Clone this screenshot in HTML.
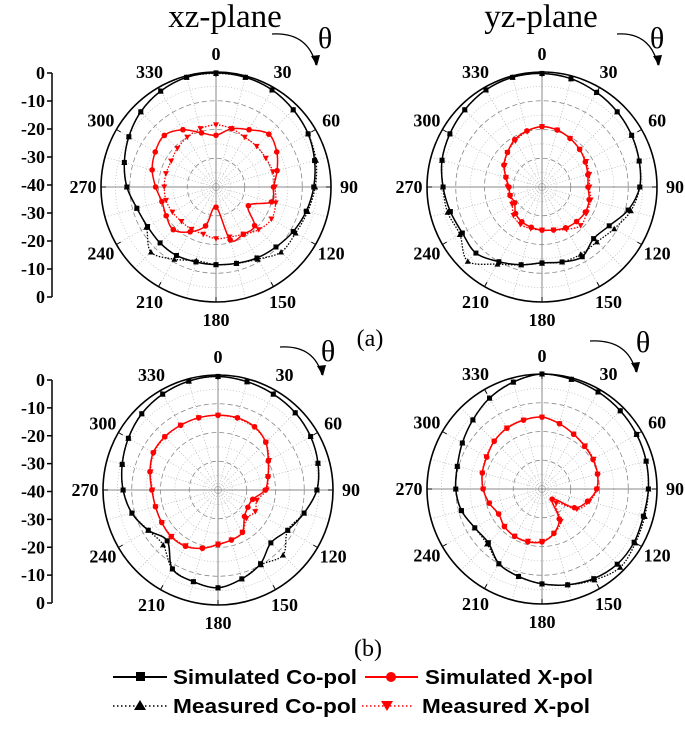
<!DOCTYPE html>
<html><head><meta charset="utf-8"><style>
html,body{margin:0;padding:0;background:#fff;}
svg{display:block;}
.lab{font-family:"Liberation Serif",serif;font-weight:bold;font-size:18px;fill:#000;}
.leg{font-family:"Liberation Sans",sans-serif;font-weight:bold;font-size:20px;fill:#000;}
</style></head><body>
<svg id="fig" width="685" height="734" viewBox="0 0 685 734" xmlns="http://www.w3.org/2000/svg">
<rect width="685" height="734" fill="#fff"/>
<text x="225" y="27" font-family="Liberation Serif,serif" font-size="33" text-anchor="middle">xz-plane</text>
<text x="541" y="27" font-family="Liberation Serif,serif" font-size="33" text-anchor="middle">yz-plane</text>
<text x="370" y="346" font-family="Liberation Serif,serif" font-size="24" text-anchor="middle">(a)</text>
<text x="368" y="656" font-family="Liberation Serif,serif" font-size="24" text-anchor="middle">(b)</text>
<g id="legend">
 <g>
  <line x1="113" y1="677" x2="167" y2="677" stroke="#000" stroke-width="2"/>
  <rect x="136" y="672" width="9" height="9" fill="#000"/>
  <text class="leg" x="173" y="684" textLength="184" lengthAdjust="spacingAndGlyphs">Simulated Co-pol</text>
 </g>
 <g>
  <line x1="365" y1="677" x2="418" y2="677" stroke="#f00" stroke-width="2"/>
  <circle cx="391" cy="677" r="5" fill="#f00"/>
  <text class="leg" x="425" y="684" textLength="168" lengthAdjust="spacingAndGlyphs">Simulated X-pol</text>
 </g>
 <g>
  <line x1="113" y1="706" x2="167" y2="706" stroke="#000" stroke-width="1.5" stroke-dasharray="1.5,2.5"/>
  <polygon points="140,700 134,710 146,710" fill="#000"/>
  <text class="leg" x="173" y="713" textLength="184" lengthAdjust="spacingAndGlyphs">Measured Co-pol</text>
 </g>
 <g>
  <line x1="362" y1="706" x2="412" y2="706" stroke="#f00" stroke-width="1.5" stroke-dasharray="1.5,2.5"/>
  <polygon points="381,701 393,701 387,711" fill="#f00"/>
  <text class="leg" x="422" y="713" textLength="168" lengthAdjust="spacingAndGlyphs">Measured X-pol</text>
 </g>
</g>
</svg>
<script>
// angles 0..345 step 15 (deg), values in dB
const angles = [0,15,30,45,60,75,90,105,120,135,150,165,180,195,210,225,240,255,270,285,300,315,330,345];
const radialTicks = ["0","-10","-20","-30","-40","-30","-20","-10","0"];
const angleLabels = [0,30,60,90,120,150,180,210,240,270,300,330];

const p1SimCo = [-0.3,-0.5,-1,-2,-3,-4.5,-6,-7.5,-9,-10.5,-11.5,-12.5,-13,-13,-12.5,-12.5,-12.5,-11.5,-9,-7,-5,-3,-1.5,-0.5];
const p1MeasCo = [-0.5,-0.5,-1,-2,-3,-4,-5.5,-7,-8,-8,-11,-12.5,-13,-13.5,-11,-8,-12,-11.5,-9,-7,-5,-3,-1.5,-0.5];
const p1SimX = [-22,-19,-17,-14,-15.6,-18,-20,-20,-27,-21,-21,-21,-33,-26,-22,-19,-20,-20.5,-19,-17,-15.6,-14.6,-17,-20.5];
const p1MeasX = [-18.4,-19,-20,-20,-20,-19.5,-19.5,-18.5,-17.7,-19,-21,-22,-22,-23,-23,-23,-22.5,-22,-22,-22,-22,-21,-20,-19];

const p2SimCo = [-0.5,-1,-2,-3,-4,-5,-6,-9,-13,-14.6,-12,-13,-13.6,-12,-10,-7.5,-8,-7,-5.6,-4,-3,-2,-1,-0.5];
const p2MeasCo = [-0.5,-1,-2,-3,-4,-5,-6,-8,-11,-13,-13,-13,-13.5,-12,-9,-3.5,-7,-6,-5.5,-4,-3,-2,-1,-0.5];
const p2SimX = [-19,-19.5,-20.5,-21.5,-22.6,-23.5,-24,-23,-22.6,-23,-23.6,-24.5,-25,-25.5,-26,-27,-29,-28.5,-28.5,-27,-24.7,-23,-21,-19.8];
const p2MeasX = [-19,-19.5,-20.5,-21.5,-22.3,-23,-23.5,-22.5,-22,-21,-23,-24.5,-25,-25,-25,-26,-28,-28.5,-28,-27,-25,-23,-21.5,-20];

const p3SimCo = [-0.5,-1,-1.5,-2,-2.8,-4,-5.6,-9,-12,-14,-10.4,-8,-6,-7,-8.3,-15,-12,-9,-7,-5.5,-4,-2.5,-1.5,-0.8];
const p3MeasCo = [-0.5,-1,-1.5,-2,-2.8,-4,-5.6,-9,-12,-8,-10,-8,-6,-7,-8.3,-13,-12,-9,-7,-5.5,-4,-2.5,-1.5,-0.8];
const p3SimX = [-14,-14,-14.6,-16.5,-19.8,-22,-23.6,-27.5,-28,-27,-23,-22,-21,-19,-17.4,-17,-17.4,-17.5,-17,-15.5,-14,-13.8,-14,-14];
const p3MeasX = [-14,-14.2,-14.8,-16.5,-19.5,-22,-23,-26,-25,-26,-23,-22,-21.2,-19,-17.6,-17.2,-17.4,-17.5,-17.2,-15.7,-14.2,-14,-14,-14];

const p4SimCo = [0,-0.5,-1,-1.5,-2,-2.5,-3,-3.5,-3,-3,-4,-5.5,-7,-8.5,-10,-13.6,-13,-11,-10,-9.5,-8,-6,-3.5,-1.5];
const p4MeasCo = [0,-0.5,-1,-1.5,-2,-2.5,-3,-3,-2.5,-1.5,-3.5,-5.5,-7,-8.5,-10,-13,-13,-11,-10,-9.5,-8,-6,-3.5,-1.5];
const p4SimX = [-15,-16.5,-18,-19,-19.5,-20,-21,-23.6,-27,-35,-28,-24,-21.6,-21,-21,-21.5,-22.6,-21,-19.5,-18.5,-17.8,-16.5,-15.6,-15.2];
const p4MeasX = [-15,-16.5,-18,-18.8,-19.3,-20,-20.8,-23,-26,-33,-27,-24,-21.8,-21.2,-21,-21.6,-22.5,-21,-19.6,-18.5,-17.6,-16.5,-15.5,-15.2];

const NS = "http://www.w3.org/2000/svg";
const svg = document.getElementById("fig");
const R = 115, DBMIN = -40;
function mk(tag, attrs, parent){ const e=document.createElementNS(NS,tag); for(const k in attrs) e.setAttribute(k,attrs[k]); (parent||svg).appendChild(e); return e; }
function rScale(db){ return R*Math.max(0,(db-DBMIN))/(-DBMIN); }
function pt(cx,cy,ang,db){ const r=rScale(db), a=ang*Math.PI/180; return [cx+r*Math.sin(a), cy-r*Math.cos(a)]; }
function smoothPath(pts){
  const n=pts.length; let d="M"+pts[0][0].toFixed(2)+","+pts[0][1].toFixed(2);
  for(let i=0;i<n;i++){
    const p0=pts[(i-1+n)%n],p1=pts[i],p2=pts[(i+1)%n],p3=pts[(i+2)%n];
    const c1=[p1[0]+(p2[0]-p0[0])/6,p1[1]+(p2[1]-p0[1])/6];
    const c2=[p2[0]-(p3[0]-p1[0])/6,p2[1]-(p3[1]-p1[1])/6];
    d+=" C"+c1[0].toFixed(2)+","+c1[1].toFixed(2)+" "+c2[0].toFixed(2)+","+c2[1].toFixed(2)+" "+p2[0].toFixed(2)+","+p2[1].toFixed(2);
  }
  return d+"Z";
}

function drawAxis(y0, y1){
  const g=mk("g",{});
  
  
  mk("line",{x1:52,y1:y0,x2:52,y2:y1,stroke:"#000","stroke-width":1.5},g);
  radialTicks.forEach((t,i)=>{
    const y=y0+(y1-y0)*i/(radialTicks.length-1);
    mk("line",{x1:47,y1:y,x2:52,y2:y,stroke:"#000","stroke-width":1.5},g);
    const tx=mk("text",{x:45,y:y+6,"text-anchor":"end",class:"lab"},g);
    
    
    tx.textContent=t;
  });
}

function drawPlot(name,cx,cy,simCo,measCo,simX,measX,thetaDx,thetaDy,arrow){
  const g=mk("g",{});
  
  
  [-5,-15,-25,-35].forEach(db=>mk("circle",{cx,cy,r:rScale(db),fill:"none",stroke:"#bbb","stroke-width":0.7,"stroke-dasharray":"1,2"},g));
  [-10,-20,-30].forEach(db=>mk("circle",{cx,cy,r:rScale(db),fill:"none",stroke:"#888","stroke-width":0.8,"stroke-dasharray":"5,3"},g));
  for(let a=0;a<360;a+=15){
    if(a%90===0) continue;
    const p=pt(cx,cy,a,0);
    mk("line",{x1:cx,y1:cy,x2:p[0],y2:p[1],stroke:"#aaa","stroke-width":0.7,"stroke-dasharray":"1,2"},g);
  }
  mk("line",{x1:cx-R,y1:cy,x2:cx+R,y2:cy,stroke:"#888","stroke-width":1},g);
  mk("line",{x1:cx,y1:cy-R,x2:cx,y2:cy+R,stroke:"#888","stroke-width":1},g);
  const oc=mk("circle",{cx,cy,r:R,fill:"none",stroke:"#000","stroke-width":1.6},g);
  
  
  angleLabels.forEach(a=>{
    const p1=pt(cx,cy,a,0), rad=a*Math.PI/180;
    mk("line",{x1:p1[0],y1:p1[1],x2:cx+(R-5)*Math.sin(rad),y2:cy-(R-5)*Math.cos(rad),stroke:"#000","stroke-width":1},g);
    const tx=mk("text",{x:cx+133*Math.sin(rad),y:cy-133*Math.cos(rad)+6,"text-anchor":"middle",class:"lab"},g);
    
    
    tx.textContent=String(a);
  });
  function series(vals,color,dashed,marker,sname){
    const sg=mk("g",{},g);
    
    
    const pts=angles.map((a,i)=>pt(cx,cy,a,vals[i]));
    const attrs={d:smoothPath(pts),fill:"none",stroke:color,"stroke-width":dashed?1.3:1.5};
    if(dashed) attrs["stroke-dasharray"]="1.5,1.5";
    mk("path",attrs,sg);
    pts.forEach(p=>{
      let m;
      if(marker==="sq") m=mk("rect",{x:p[0]-2.5,y:p[1]-2.5,width:5,height:5,fill:color},sg);
      else if(marker==="ci") m=mk("circle",{cx:p[0],cy:p[1],r:2.8,fill:color},sg);
      else if(marker==="up") m=mk("polygon",{points:`${p[0]},${p[1]-3} ${p[0]-3},${p[1]+2.5} ${p[0]+3},${p[1]+2.5}`,fill:color},sg);
      else m=mk("polygon",{points:`${p[0]-3},${p[1]-2.5} ${p[0]+3},${p[1]-2.5} ${p[0]},${p[1]+3}`,fill:color},sg);
      
      
    });
  }
  series(measCo,"#000",true,"up","measured-co-pol");
  series(simCo,"#000",false,"sq","simulated-co-pol");
  series(measX,"#f00",true,"dn","measured-x-pol");
  series(simX,"#f00",false,"ci","simulated-x-pol");
  const th=mk("text",{x:cx+thetaDx,y:cy+thetaDy+11,"font-family":"Liberation Serif,serif","font-size":30,"text-anchor":"middle"},g);
  
  
  th.textContent="θ";
  const [ax0,ay0,ax1,ay1]=arrow;
  const ar=mk("path",{d:`M${cx+ax0},${cy+ay0} Q${cx+ax1-8},${cy+ay0-2} ${cx+ax1},${cy+ay1}`,fill:"none",stroke:"#000","stroke-width":1.3},g);
  
  
  mk("polygon",{points:`${cx+ax1-5},${cy+ay1-9} ${cx+ax1+4},${cy+ay1-10} ${cx+ax1+1},${cy+ay1+1}`,fill:"#000"},g);
}

drawAxis(73,297);
drawAxis(380,603);
drawPlot("xz-plane-plot-a",216,187,p1SimCo,p1MeasCo,p1SimX,p1MeasX,109,-150,[56,-153,100,-122]);
drawPlot("yz-plane-plot-a",542,187,p2SimCo,p2MeasCo,p2SimX,p2MeasX,115,-150,[75,-153,116,-122]);
drawPlot("xz-plane-plot-b",218,490,p3SimCo,p3MeasCo,p3SimX,p3MeasX,110,-140,[62,-143,104,-115]);
drawPlot("yz-plane-plot-b",542,489,p4SimCo,p4MeasCo,p4SimX,p4MeasX,101,-148,[48,-148,94,-117]);
</script>
</body></html>
